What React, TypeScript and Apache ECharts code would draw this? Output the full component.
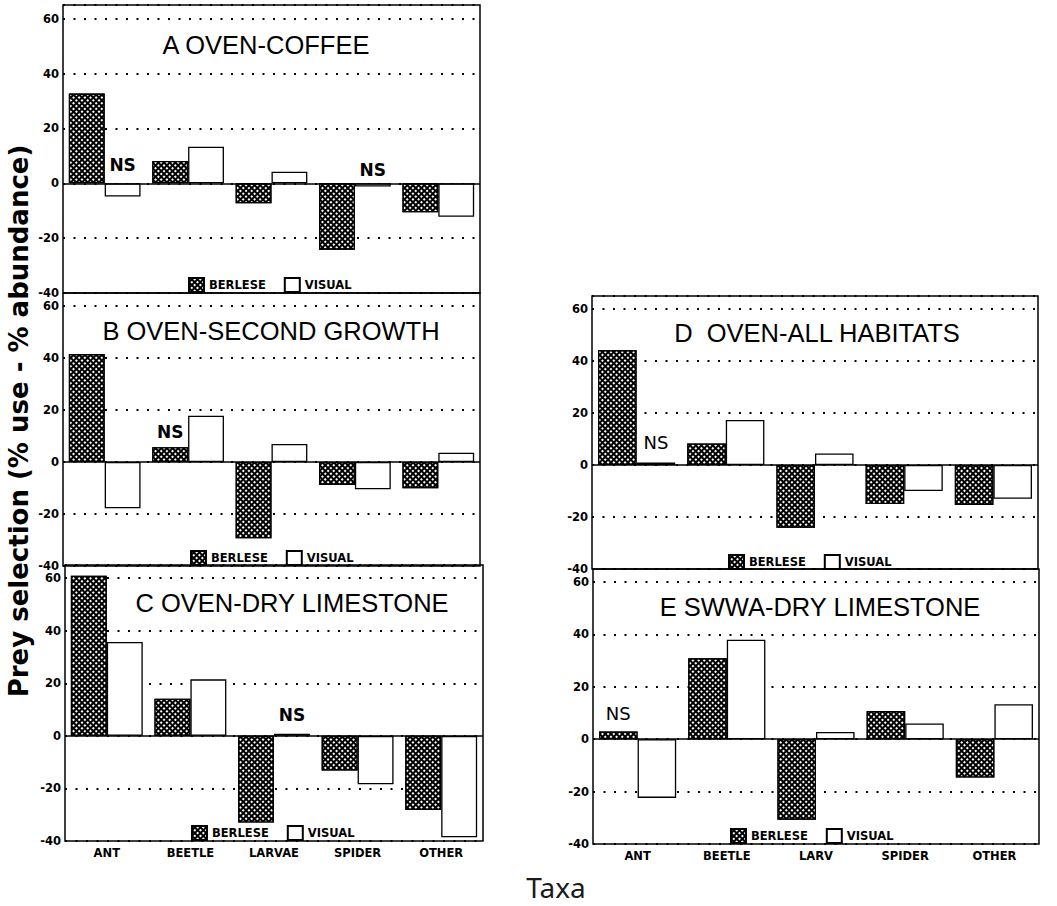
import React, { useEffect, useRef } from 'react';
import * as echarts from 'echarts';

// ---------- data ----------
const categoriesLeft = ['ANT', 'BEETLE', 'LARVAE', 'SPIDER', 'OTHER'];
const categoriesRight = ['ANT', 'BEETLE', 'LARV', 'SPIDER', 'OTHER'];
const seriesNames = ['BERLESE', 'VISUAL'];
const panelTitles = [
  'A OVEN-COFFEE',
  'B OVEN-SECOND GROWTH',
  'C OVEN-DRY LIMESTONE',
  'D  OVEN-ALL HABITATS',
  'E SWWA-DRY LIMESTONE',
];
const yMin = -40;
const yMax = 65;
const yStep = 20;

const berleseA = [32.7, 8.1, -7.3, -24.2, -10.6];
const visualA = [-4.8, 13.3, 4.2, -1.2, -12.2];
const berleseB = [41.5, 5.7, -29.3, -8.8, -10.1];
const visualB = [-17.8, 17.8, 6.9, -10.5, 3.6];
const berleseC = [60.9, 14.1, -33, -13.2, -28.2];
const visualC = [35.7, 21.5, 0.8, -18.4, -38.6];
const berleseD = [44.2, 8.3, -24.1, -15, -15.4];
const visualD = [1, 17.3, 4.4, -10, -13];
const berleseE = [3, 30.9, -30.7, 10.8, -14.6];
const visualE = [-22.4, 38, 2.8, 6, 13.4];

// "NS" (not significant) flags
const nsBerleseA = [false, false, false, false, false];
const nsVisualA = [true, false, false, true, false];
const nsBerleseB = [false, true, false, false, false];
const nsVisualB = [false, false, false, false, false];
const nsBerleseC = [false, false, false, false, false];
const nsVisualC = [false, false, true, false, false];
const nsBerleseD = [false, false, false, false, false];
const nsVisualD = [true, false, false, false, false];
const nsBerleseE = [true, false, false, false, false];
const nsVisualE = [false, false, false, false, false];

const yAxisTitle = 'Prey selection (% use - % abundance)';
const xAxisTitle = 'Taxa';

// ---------- layout / style ----------
const panels = [
  { cats: categoriesLeft, showX: false, b: berleseA, v: visualA, nsB: nsBerleseA, nsV: nsVisualA,
    left: 63, top: 5, width: 417, height: 288, tx: 266, ty: 45, lx: 188, ly: 277, gap: '14%',
    nsFont: 17, nsWeight: 'bold', nsDistB: [0, 0, 0, 0, 0], nsDistV: [9.6, 0, 0, 4.6, 0] },
  { cats: categoriesLeft, showX: false, b: berleseB, v: visualB, nsB: nsBerleseB, nsV: nsVisualB,
    left: 63, top: 293, width: 417, height: 273, tx: 271, ty: 331, lx: 190, ly: 550, gap: '14%',
    nsFont: 17, nsWeight: 'bold', nsDistB: [0, 6.6, 0, 0, 0], nsDistV: [0, 0, 0, 0, 0] },
  { cats: categoriesLeft, showX: true, b: berleseC, v: visualC, nsB: nsBerleseC, nsV: nsVisualC,
    left: 65, top: 565, width: 418, height: 276, tx: 292, ty: 603, lx: 191, ly: 825, gap: '14%',
    nsFont: 17, nsWeight: 'bold', nsDistB: [0, 0, 0, 0, 0], nsDistV: [0, 0, 10, 0, 0] },
  { cats: categoriesRight, showX: false, b: berleseD, v: visualD, nsB: nsBerleseD, nsV: nsVisualD,
    left: 592, top: 296, width: 446, height: 273, tx: 817, ty: 333, lx: 728, ly: 554, gap: '13.5%',
    nsFont: 18, nsWeight: 'normal', nsDistB: [0, 0, 0, 0, 0], nsDistV: [11, 0, 0, 0, 0] },
  { cats: categoriesRight, showX: true, b: berleseE, v: visualE, nsB: nsBerleseE, nsV: nsVisualE,
    left: 593, top: 569, width: 446, height: 275, tx: 820, ty: 607, lx: 730, ly: 828, gap: '13.5%',
    nsFont: 18, nsWeight: 'normal', nsDistB: [9.3, 0, 0, 0, 0], nsDistV: [0, 0, 0, 0, 0] },
];

const smallFont = 'DejaVu Sans';
const hatch = {
  symbol: 'rect',
  symbolSize: 1,
  color: '#ffffff',
  backgroundColor: '#000000',
  dashArrayX: [1.9, 1.3],
  dashArrayY: [1.9, 1.3],
  rotation: Math.PI / 4,
};

function withNS(values: number[], flags: boolean[], dists: number[], p: any) {
  return values.map((v, i) =>
    flags[i]
      ? {
          value: v,
          label: {
            show: true,
            formatter: 'NS',
            position: 'top',
            distance: dists[i],
            color: '#000',
            fontFamily: smallFont,
            fontSize: p.nsFont,
            fontWeight: p.nsWeight,
          },
        }
      : v
  );
}

export default function App() {
  const ref = useRef<HTMLDivElement>(null);
  useEffect(() => {
    document.body.style.margin = '0';
    if (!ref.current) return;
    const chart = echarts.init(ref.current, undefined, { renderer: 'svg' });

    const grid: any[] = [];
    const xAxis: any[] = [];
    const yAxis: any[] = [];
    const series: any[] = [];
    const legend: any[] = [];
    const graphic: any[] = [];

    panels.forEach((p, i) => {
      grid.push({
        left: p.left, top: p.top, width: p.width, height: p.height,
        show: true, borderColor: '#000', borderWidth: 1.5, backgroundColor: 'transparent',
      });
      xAxis.push({
        type: 'category', gridIndex: i, data: p.cats,
        axisLine: { show: false, onZero: false }, axisTick: { show: false },
        splitLine: { show: false },
        axisLabel: {
          show: p.showX, margin: 6, color: '#000', fontFamily: smallFont,
          fontWeight: 'bold', fontSize: 11.5, interval: 0,
        },
      });
      yAxis.push({
        type: 'value', gridIndex: i, min: yMin, max: yMax, interval: yStep,
        axisLine: { show: false }, axisTick: { show: false },
        axisLabel: {
          margin: 4, color: '#000', fontFamily: smallFont, fontWeight: 'bold', fontSize: 11.5,
          showMaxLabel: false,
          formatter: (v: number) => (v % yStep === 0 ? String(v) : ''),
        },
        splitLine: { show: true, lineStyle: { color: '#000', type: [2, 8.5], width: 1.8 } },
      });
      series.push({
        name: seriesNames[0], type: 'bar', xAxisIndex: i, yAxisIndex: i,
        data: withNS(p.b, p.nsB, p.nsDistB, p),
        barGap: '0%', barCategoryGap: p.gap,
        itemStyle: { color: '#000', borderColor: '#000', borderWidth: 1.3, decal: hatch },
        emphasis: { disabled: true },
      });
      series.push({
        name: seriesNames[1], type: 'bar', xAxisIndex: i, yAxisIndex: i,
        data: withNS(p.v, p.nsV, p.nsDistV, p),
        barGap: '0%', barCategoryGap: p.gap,
        itemStyle: { color: '#fff', borderColor: '#000', borderWidth: 1.3 },
        emphasis: { disabled: true },
        markLine: {
          silent: true, symbol: 'none', animation: false,
          label: { show: false },
          lineStyle: { color: '#000', width: 1.5, type: 'solid' },
          data: [{ yAxis: 0 }],
        },
      });
      legend.push({
        left: p.lx, top: p.ly, orient: 'horizontal', icon: 'rect', padding: 0,
        itemWidth: 15, itemHeight: 14, itemGap: 18, selectedMode: false,
        data: seriesNames,
        textStyle: { color: '#000', fontFamily: smallFont, fontWeight: 'bold', fontSize: 11.5 },
      });
      graphic.push({
        type: 'text', x: p.tx, y: p.ty, silent: true,
        style: {
          text: panelTitles[i], fill: '#000', fontFamily: 'Liberation Sans, Arial, sans-serif',
          fontSize: 25.5, textAlign: 'center', textVerticalAlign: 'middle',
          align: 'center', verticalAlign: 'middle',
        },
      });
    });

    graphic.push({
      type: 'text', x: 19, y: 421, rotation: Math.PI / 2, silent: true,
      style: {
        text: yAxisTitle, fill: '#000', fontFamily: smallFont, fontWeight: 'bold', fontSize: 26,
        textAlign: 'center', textVerticalAlign: 'middle', align: 'center', verticalAlign: 'middle',
      },
    });
    graphic.push({
      type: 'text', x: 556, y: 887, silent: true,
      style: {
        text: xAxisTitle, fill: '#1a1a1a', fontFamily: 'Noto Sans', fontSize: 28,
        textAlign: 'center', textVerticalAlign: 'middle', align: 'center', verticalAlign: 'middle',
      },
    });

    chart.setOption({
      animation: false,
      backgroundColor: '#fff',
      grid, xAxis, yAxis, series, legend, graphic,
    });
    return () => chart.dispose();
  }, []);
  return <div ref={ref} style={{ width: 1057, height: 906 }} />;
}
